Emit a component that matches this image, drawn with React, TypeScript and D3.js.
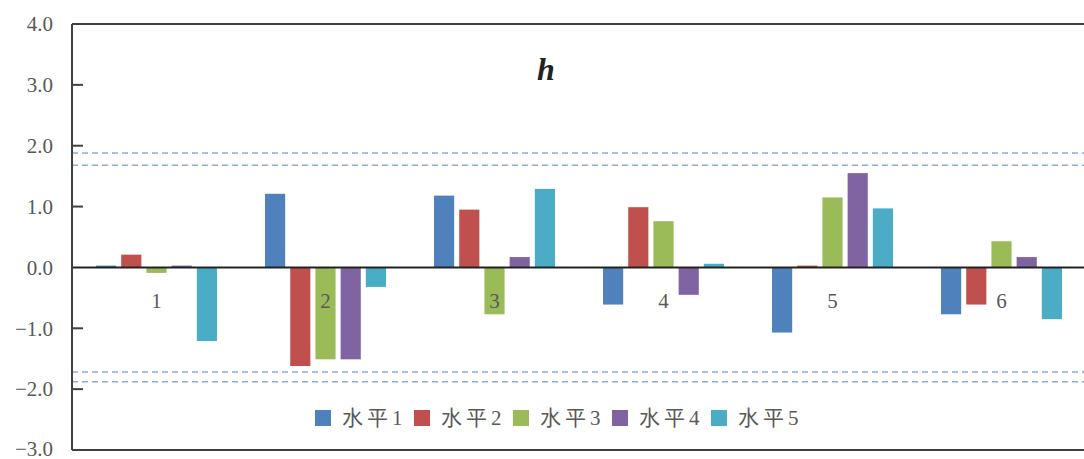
import React from "react";
import * as d3 from "d3";

const categories = ["1", "2", "3", "4", "5", "6"];
const seriesNames = ["水平1", "水平2", "水平3", "水平4", "水平5"];
const level1 = [0.03, 1.21, 1.18, -0.61, -1.07, -0.77];
const level2 = [0.21, -1.62, 0.95, 0.99, 0.03, -0.61];
const level3 = [-0.09, -1.51, -0.77, 0.76, 1.15, 0.43];
const level4 = [0.03, -1.51, 0.17, -0.45, 1.55, 0.17];
const level5 = [-1.21, -0.32, 1.29, 0.06, 0.97, -0.85];
const yTicks = [-3, -2, -1, 0, 1, 2, 3, 4];
const refLines = [1.88, 1.68, -1.72, -1.88];
const colors = ["#4f81bd", "#c0504d", "#9bbb59", "#8064a2", "#4bacc6"];

const W = 1084;
const H = 459;
const left = 72;
const top = 24;
const bottom = 450;
const step = 169;

export default function App() {
  const series = [level1, level2, level3, level4, level5];
  const y = d3.scaleLinear().domain([-3, 4]).range([bottom, top]);
  const x = d3
    .scaleBand<string>()
    .domain(categories)
    .range([left, left + step * categories.length])
    .padding(0);
  const inner = d3
    .scaleBand<string>()
    .domain(seriesNames)
    .range([-63, 63])
    .paddingInner(0.2)
    .paddingOuter(0.1);
  const right = left + step * categories.length;
  const font = "'Liberation Serif', 'Times New Roman', 'Noto Sans CJK SC', serif";
  const gray = "#595959";

  return (
    <svg
      width={W}
      height={H}
      style={{ position: "absolute", left: 0, top: 0, background: "#fff" }}
      fontFamily={font}
    >
      {/* reference dashed lines */}
      {refLines.map((v, i) => (
        <line
          key={"r" + i}
          x1={left}
          x2={right}
          y1={y(v)}
          y2={y(v)}
          stroke="#8eaadb"
          strokeWidth={1.5}
          strokeDasharray="6,4"
        />
      ))}
      {/* bars */}
      {categories.map((c, ci) => {
        const cx = (x(c) as number) + x.bandwidth() / 2;
        return (
          <g key={"g" + c}>
            {series.map((s, si) => {
              const v = s[ci];
              const bx = cx + (inner(seriesNames[si]) as number);
              const y0 = y(0);
              const y1 = y(v);
              return (
                <rect
                  key={"b" + si}
                  x={bx}
                  y={Math.min(y0, y1)}
                  width={inner.bandwidth()}
                  height={Math.abs(y1 - y0)}
                  fill={colors[si]}
                />
              );
            })}
            <text
              x={cx}
              y={308}
              textAnchor="middle"
              fontSize={21}
              fill={gray}
            >
              {c}
            </text>
          </g>
        );
      })}
      {/* zero line */}
      <line x1={left} x2={right} y1={y(0)} y2={y(0)} stroke="#222" strokeWidth={2} />
      {/* frame */}
      <line x1={left} x2={right} y1={top} y2={top} stroke="#404040" strokeWidth={2} />
      <line x1={left} x2={right} y1={bottom} y2={bottom} stroke="#404040" strokeWidth={2} />
      <line x1={left} x2={left} y1={top} y2={bottom} stroke="#404040" strokeWidth={2} />
      {/* y ticks */}
      {yTicks.map((t) => (
        <g key={"t" + t}>
          {t !== 0 && t !== 4 && t !== -3 && (
            <line x1={left} x2={left + 11} y1={y(t)} y2={y(t)} stroke="#404040" strokeWidth={2} />
          )}
          <text
            x={53}
            y={t === -3 ? y(t) - 1 : y(t)}
            dy="0.35em"
            textAnchor="end"
            fontSize={21}
            fill={gray}
          >
            {d3.format(".1f")(t)}
          </text>
        </g>
      ))}
      {/* title */}
      <text
        x={546}
        y={80}
        textAnchor="middle"
        fontSize={32}
        fontStyle="italic"
        fontWeight="bold"
        fill="#222"
      >
        h
      </text>
      {/* legend */}
      {seriesNames.map((n, i) => {
        const lx = 315 + i * 99;
        return (
          <g key={"l" + i}>
            <rect x={lx} y={410} width={16} height={16} fill={colors[i]} />
            <text
              x={lx + 27}
              y={425}
              fontSize={21}
              fill={gray}
              letterSpacing={4}
            >
              {n}
            </text>
          </g>
        );
      })}
    </svg>
  );
}
